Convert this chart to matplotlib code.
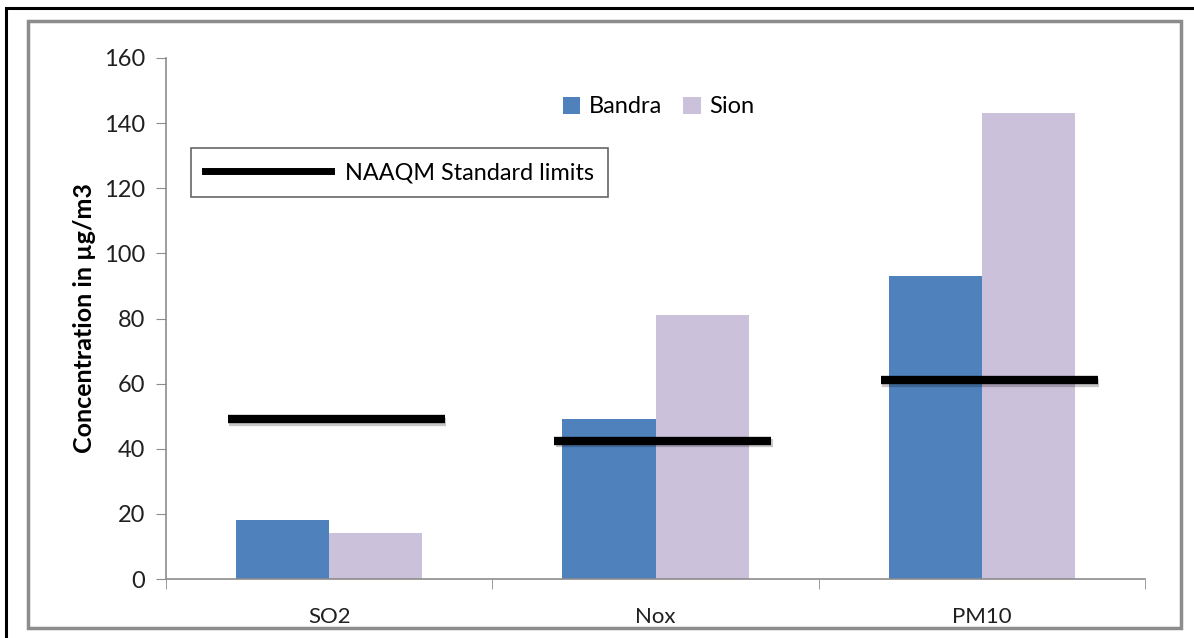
import matplotlib
matplotlib.use('Agg')
import matplotlib.pyplot as plt
from matplotlib.patches import Rectangle
from matplotlib.lines import Line2D
import matplotlib.patheffects as pe
import numpy as np

plt.rcParams['font.family'] = ['Lato', 'DejaVu Sans']

pollutants = ['SO2', 'Nox', 'PM10']
bandra = [18, 49, 93]
sion = [14, 81, 143]
naaqm_limits = [49, 42.5, 61]

BLUE = '#4f81bd'
LILAC = '#ccc1da'
GREY = '#8c8c8c'

fig = plt.figure(figsize=(11.94, 6.38), dpi=100)

# outer frames
fig.patches.append(Rectangle((6 / 1194, -0.1), 1.2, 630 / 638 + 0.1,
                             transform=fig.transFigure, fill=False,
                             edgecolor='black', linewidth=2.2))
fig.patches.append(Rectangle((28 / 1194, 1 - 628 / 638), (1181 - 28) / 1194,
                             (628 - 21) / 638, transform=fig.transFigure,
                             fill=False, edgecolor=GREY, linewidth=2.5))

ax = fig.add_axes([166 / 1194, 1 - 579 / 638, (1145 - 166) / 1194,
                   (579 - 58) / 638])

x = np.arange(len(pollutants))
w = 0.285
b1 = ax.bar(x - w / 2, bandra, w, color=BLUE, label='Bandra')
b2 = ax.bar(x + w / 2, sion, w, color=LILAC, label='Sion')

shadow = [pe.SimpleLineShadow(offset=(1, -2), alpha=0.22, shadow_color='black'),
          pe.Normal()]
for i, lim in enumerate(naaqm_limits):
    std_line, = ax.plot([i - 0.31, i + 0.355], [lim, lim], color='black',
                        linewidth=6, solid_capstyle='butt', path_effects=shadow)

ax.set_xlim(-0.5, 2.5)
ax.set_ylim(0, 160)
ax.set_yticks(range(0, 161, 20))
ax.set_xticks(x)
ax.set_xticklabels(pollutants)
ax.set_xticks([-0.5, 0.5, 1.5, 2.5], minor=True)
ax.tick_params(axis='x', which='major', length=0, pad=20, labelsize=16,
               labelcolor='#202020')
ax.tick_params(axis='x', which='minor', length=7, color=GREY, direction='out')
ax.tick_params(axis='y', length=7, color=GREY, direction='out', pad=8,
               labelsize=17, labelcolor='#202020')
for s in ['top', 'right']:
    ax.spines[s].set_visible(False)
for s in ['left', 'bottom']:
    ax.spines[s].set_color(GREY)
    ax.spines[s].set_linewidth(1.2)

ax.set_ylabel('Concentration in µg/m3', fontsize=18, fontweight='bold',
              labelpad=6)

leg1 = ax.legend(handles=[b1, b2], loc='center', bbox_to_anchor=(0.503, 0.906),
                 ncol=2, frameon=False, fontsize=17, handlelength=0.75,
                 handleheight=0.75, columnspacing=0.9, handletextpad=0.35)
ax.add_artist(leg1)

line_handle = Line2D([], [], color='black', linewidth=5)
leg2 = ax.legend(handles=[line_handle], labels=['NAAQM Standard limits'],
                 loc='upper left', bbox_to_anchor=(0.026, 0.827),
                 fontsize=16.8, handlelength=5.4, frameon=True, fancybox=False,
                 edgecolor='#404040', borderpad=0.6, handletextpad=0.6,
                 borderaxespad=0)
leg2.get_frame().set_linewidth(1.2)

fig.savefig('out.png', dpi=100)
